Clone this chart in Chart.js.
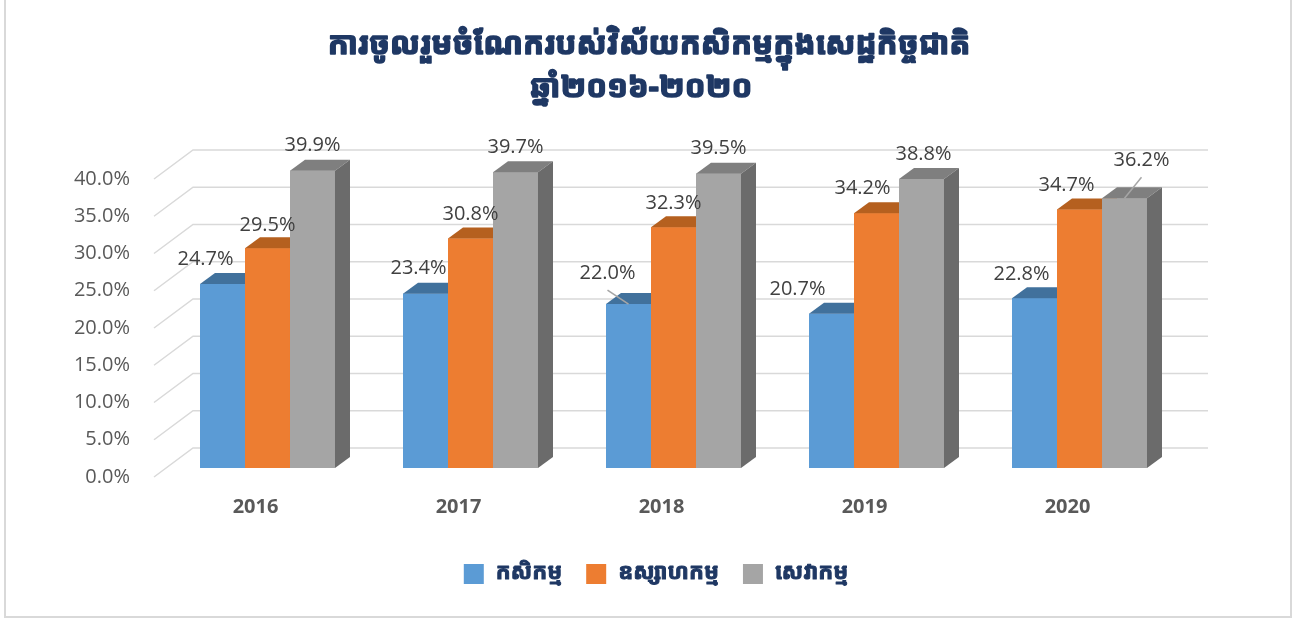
<!DOCTYPE html>
<html><head><meta charset="utf-8">
<script src="https://cdn.jsdelivr.net/npm/chart.js@4.4.1/dist/chart.umd.min.js"></script>
<style>html,body{margin:0;padding:0;background:#fff;overflow:hidden}#wrap{width:1298px;height:619px;position:relative}</style>
</head><body><div id="wrap"><canvas id="c" width="1298" height="619"></canvas></div>
<script>
// ---- data ----
const titleLines = ['ការចូលរួមចំណែករបស់វិស័យកសិកម្មក្នុងសេដ្ឋកិច្ចជាតិ', 'ឆ្នាំ២០១៦-២០២០'];
const categories = ['2016', '2017', '2018', '2019', '2020'];
const seriesNames = ['កសិកម្ម', 'ឧស្សាហកម្ម', 'សេវាកម្ម'];
const agriculture = [24.7, 23.4, 22.0, 20.7, 22.8];
const industry = [29.5, 30.8, 32.3, 34.2, 34.7];
const services = [39.9, 39.7, 39.5, 38.8, 36.2];
const yMin = 0, yMax = 40, yStep = 5;

// ---- styles ----
const frontColors = ['#5B9BD5', '#ED7D31', '#A5A5A5'];
const topColors = ['#41719C', '#B5601F', '#7F7F7F'];
const sideColors = ['#3C6A93', '#A5561C', '#6B6B6B'];
const DEPTH_X = 15, DEPTH_Y = 11;
const FLOOR_FRONT = {dx: -12, dy: 9}, WALL = {dx: 27, dy: -20};
const labelNudge = [
  [[-17, -25], [-7, -25], [-21, -31], [-34, -24], [-13, -24]],
  [[0, -23], [0, -24], [0, -24], [-14, -25], [-13, -24]],
  [[0, -25], [0, -25], [0, -25], [2, -25], [17, -38]]
];
const NAVY = '#1F3864';
const KH_FONT = '"Khmer OS Muol Light","Noto Sans Khmer","Noto Sans","DejaVu Sans",sans-serif';

function drawBar3D(ctx, el, ci) {
  const p = el.getProps(['x', 'y', 'base', 'width'], true);
  const l = p.x - p.width / 2, r = p.x + p.width / 2, t = Math.min(p.y, p.base), b = Math.max(p.y, p.base);
  ctx.fillStyle = frontColors[ci];
  ctx.fillRect(l, t, r - l, b - t);
  ctx.fillStyle = topColors[ci];
  ctx.beginPath();
  ctx.moveTo(l, t); ctx.lineTo(r, t); ctx.lineTo(r + DEPTH_X, t - DEPTH_Y); ctx.lineTo(l + DEPTH_X, t - DEPTH_Y);
  ctx.closePath(); ctx.fill();
  ctx.fillStyle = sideColors[ci];
  ctx.beginPath();
  ctx.moveTo(r, t); ctx.lineTo(r + DEPTH_X, t - DEPTH_Y); ctx.lineTo(r + DEPTH_X, b - DEPTH_Y); ctx.lineTo(r, b);
  ctx.closePath(); ctx.fill();
}

const plugin3d = {
  id: 'threeD',
  beforeDatasetsDraw(chart) {
    const ctx = chart.ctx, ys = chart.scales.y, ca = chart.chartArea;
    ctx.save();
    ctx.strokeStyle = '#D9D9D9'; ctx.lineWidth = 1.5;
    for (let v = yMin; v <= yMax + 1e-9; v += yStep) {
      const yb = ys.getPixelForValue(v);
      ctx.beginPath();
      ctx.moveTo(ca.left + FLOOR_FRONT.dx, yb + FLOOR_FRONT.dy);
      ctx.lineTo(ca.left + WALL.dx, yb + WALL.dy);
      ctx.lineTo(ca.right + WALL.dx, yb + WALL.dy);
      ctx.stroke();
    }
    ctx.restore();
  },
  afterDatasetsDraw(chart) {
    const ctx = chart.ctx;
    ctx.save();
    chart.data.datasets.forEach((ds, ci) => {
      const meta = chart.getDatasetMeta(ci);
      meta.data.forEach(el => drawBar3D(ctx, el, ci));
    });
    // data labels
    ctx.font = '20px "Open Sans", "Noto Sans", sans-serif';
    ctx.fillStyle = '#404040';
    ctx.textAlign = 'center'; ctx.textBaseline = 'middle';
    chart.data.datasets.forEach((ds, ci) => {
      const meta = chart.getDatasetMeta(ci);
      meta.data.forEach((el, i) => {
        const p = el.getProps(['x', 'y'], true);
        const [nx, ny] = labelNudge[ci][i];
        const lx = p.x + nx, ly = p.y + ny;
        if (ny < -28) {
          ctx.save();
          ctx.strokeStyle = '#A6A6A6'; ctx.lineWidth = 1.5;
          ctx.beginPath(); ctx.moveTo(lx, ly + 17); ctx.lineTo(p.x, p.y); ctx.stroke();
          ctx.restore();
        }
        ctx.fillText(ds.data[i].toFixed(1) + '%', lx, ly);
      });
    });
    ctx.restore();
  },
  afterDraw(chart) {
    const ctx = chart.ctx;
    ctx.save();
    // border
    ctx.strokeStyle = '#D9D9D9'; ctx.lineWidth = 2;
    ctx.beginPath(); ctx.moveTo(5, 0); ctx.lineTo(5, 617); ctx.lineTo(1291, 617); ctx.lineTo(1291, 0); ctx.stroke();
    // title
    ctx.fillStyle = NAVY; ctx.strokeStyle = NAVY; ctx.lineJoin = 'round';
    ctx.textAlign = 'center'; ctx.textBaseline = 'middle';
    ctx.font = 'bold 31px ' + KH_FONT;
    ctx.lineWidth = 1.6;
    ctx.fillText(titleLines[0], 649, 45); ctx.strokeText(titleLines[0], 649, 45);
    ctx.fillText(titleLines[1], 641, 88); ctx.strokeText(titleLines[1], 641, 88);
    // legend
    ctx.font = 'bold 22px ' + KH_FONT;
    ctx.lineWidth = 1;
    const box = 20, gap = 12, spacing = 24;
    const widths = seriesNames.map(n => ctx.measureText(n).width);
    const total = widths.reduce((a, w) => a + box + gap + w, 0) + spacing * (seriesNames.length - 1);
    let x = 656 - total / 2;
    const ly = 573;
    ctx.textAlign = 'left';
    seriesNames.forEach((n, i) => {
      ctx.fillStyle = frontColors[i];
      ctx.fillRect(x, ly - 9, box, box);
      ctx.fillStyle = NAVY;
      ctx.fillText(n, x + box + gap, ly); ctx.strokeText(n, x + box + gap, ly);
      x += box + gap + widths[i] + spacing;
    });
    ctx.restore();
  }
};

new Chart(document.getElementById('c'), {
  type: 'bar',
  data: {
    labels: categories,
    datasets: [
      {label: seriesNames[0], data: agriculture, backgroundColor: frontColors[0]},
      {label: seriesNames[1], data: industry, backgroundColor: frontColors[1]},
      {label: seriesNames[2], data: services, backgroundColor: frontColors[2]}
    ]
  },
  options: {
    responsive: false,
    animation: false,
    devicePixelRatio: 1,
    layout: {padding: {left: 0, right: 117, top: 170, bottom: 0}},
    datasets: {bar: {categoryPercentage: 0.665, barPercentage: 1, borderWidth: 0}},
    plugins: {legend: {display: false}, title: {display: false}, tooltip: {enabled: false}},
    scales: {
      x: {
        grid: {display: false, drawTicks: false},
        border: {display: false},
        ticks: {color: '#595959', font: {family: '"Open Sans", "Noto Sans", sans-serif', size: 20, weight: 'bold'}, padding: 27, labelOffset: -12},
        afterFit(s) { s.height = 151; }
      },
      y: {
        min: yMin, max: yMax,
        grid: {display: false, drawTicks: false},
        border: {display: false},
        ticks: {stepSize: yStep, color: '#595959', font: {family: '"Open Sans", "Noto Sans", sans-serif', size: 20}, padding: 36, labelOffset: 9,
          callback: v => v.toFixed(1) + '%'},
        afterFit(s) { s.width = 166; }
      }
    }
  },
  plugins: [plugin3d]
});
</script></body></html>
